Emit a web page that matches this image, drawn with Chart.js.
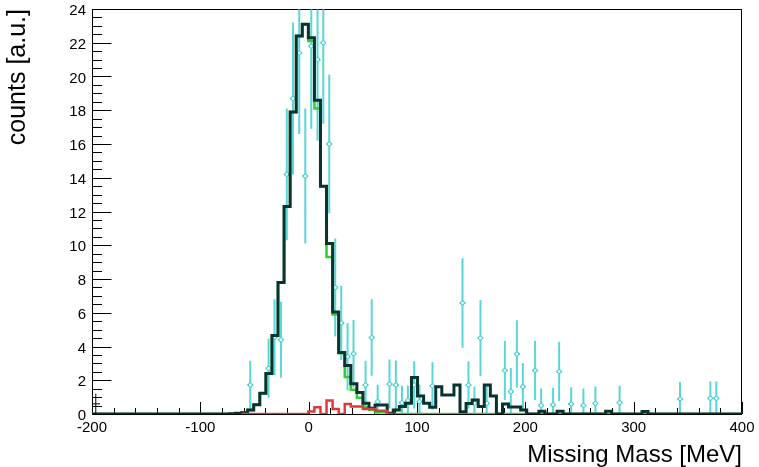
<!DOCTYPE html>
<html>
<head>
<meta charset="utf-8">
<script src="https://cdn.jsdelivr.net/npm/chart.js@4.4.1/dist/chart.umd.min.js"></script>
<style>
  html, body { margin: 0; padding: 0; background: #ffffff; }
  #wrap { width: 759px; height: 467px; }
</style>
</head>
<body>
<div id="wrap"><canvas id="missing-mass-canvas" width="759" height="467"></canvas></div>
<script>
// histogram binning (MeV)
const binWidth = 5.6;
const totalStart = -73.1;   // left edge of first bin listed in totalCounts / signalCounts
const bgStart = -61.9;      // left edge of first bin listed in bgCounts

// total fit (black)
const totalCounts = [0.02, 0.04, 0.08, 0.24, 0.55, 1.23, 2.4, 4.65, 7.8, 12.3, 17.9, 22.4,
  23.1, 22.3, 18.6, 13.5, 10.1, 6.05, 3.64, 2.87, 1.8, 1.27,
  0.63, 0.34, 0.53, 0.53, 0.04, 0.24, 0.44, 0.63, 2.16, 1.07,
  0.63, 0.40, 1.62, 1.13, 1.13, 1.72, 0.14, 0.62, 0.83, 0.44,
  1.72, 1.07, 0, 0.6, 0.42, 0.42, 0.24, 0, 0, 0.17,
  0, 0, 0.17, 0, 0, 0, 0, 0, 0, 0, 0.17, 0, 0, 0, 0, 0, 0.15];

// signal component (green)
const signalCounts = [0.02, 0.04, 0.08, 0.24, 0.55, 1.23, 2.4, 4.65, 7.8, 12.3, 17.9, 22.4,
  23.1, 22.1, 18.1, 13.5, 9.3, 5.9, 3.6, 2.2, 1.43, 0.97,
  0.4, 0.25, 0.1, 0.1, 0.04];

// background component (red)
const bgCounts = [0, 0, 0, 0, 0, 0, 0, 0, 0, 0, 0, 0.15, 0.4, 0, 0.8, 0.3, 0,
  0.6, 0.44, 0.44, 0.3, 0.3, 0.2, 0.2, 0];

// measured points (cyan) with errors
const dataX = [-53.9, -37.0, -31.5, -25.6, -20.2, -14.5, -8.7, -3.1, 2.4, 8.2,
  13.5, 19.0, 24.5, 30.1, 35.9, 41.4, 52.5, 58.2, 63.7, 74.6,
  80.5, 86.1, 91.6, 97.4, 102.3, 114.3, 142.0, 147.5, 153.0, 158.6,
  164.3, 181.1, 186.6, 192.2, 197.7, 209.0, 214.6, 225.6, 231.2, 242.3,
  253.6, 264.7, 287.0, 342.8, 370.8, 376.3];
const dataY = [1.72, 2.71, 4.55, 4.4, 14.2, 18.7, 21.4, 14.1, 21.8, 21.0,
  22.0, 16.0, 7.5, 5.4, 3.4, 3.57, 1.72, 4.53, 0.73, 1.78,
  1.72, 0.67, 0.79, 1.72, 0.73, 1.66, 6.58, 1.72, 0.63, 4.5,
  0.63, 2.58, 1.33, 3.55, 1.62, 2.58, 0.51, 0.55, 2.52, 0.59,
  0.51, 0.63, 0.67, 0.89, 0.93, 0.93];
const dataErr = [1.43, 1.75, 2.25, 2.25, 3.9, 4.5, 4.8, 4.0, 4.9, 4.8,
  4.8, 4.1, 2.9, 2.2, 2.0, 2.0, 1.43, 2.27, 1.0, 1.45,
  1.45, 1.0, 0.9, 1.4, 1.0, 1.4, 2.65, 1.4, 1.0, 2.25,
  1.0, 1.75, 1.4, 2.0, 1.4, 1.75, 1.0, 1.0, 1.75, 1.0,
  1.0, 1.0, 1.0, 1.0, 1.0, 1.0];

// small black marker at the first bin
const firstBinX = [-196.5];
const firstBinY = [0.6];
const firstBinErr = [0.6];

const xTicks = [-200, -100, 0, 100, 200, 300, 400];
const yTicks = [0, 2, 4, 6, 8, 10, 12, 14, 16, 18, 20, 22, 24];

const FONT = "'Liberation Sans', Arial, Helvetica, sans-serif";

// step outline of a histogram from its bin contents
function histLine(values, start, extend) {
  const pts = [];
  if (extend) pts.push({x: -200, y: 0});
  pts.push({x: start, y: 0});
  values.forEach((v, i) => {
    const lo = start + i * binWidth;
    pts.push({x: lo, y: v}, {x: lo + binWidth, y: v});
  });
  pts.push({x: start + values.length * binWidth, y: 0});
  if (extend) pts.push({x: 400, y: 0});
  return pts;
}

// vertical + horizontal error bar segments, separated by gaps
function errorBars(xs, ys, errs, halfWidth) {
  const pts = [];
  xs.forEach((x, i) => {
    pts.push({x: x, y: ys[i] - errs[i]}, {x: x, y: ys[i] + errs[i]}, {x: x, y: null});
    pts.push({x: x - halfWidth, y: ys[i]}, {x: x + halfWidth, y: ys[i]}, {x: x, y: null});
  });
  return pts;
}

// ROOT style frame with inward ticks
const rootFrame = {
  id: 'rootFrame',
  beforeDatasetsDraw(chart) {
    const {ctx, chartArea: a, scales: {x, y}} = chart;
    ctx.save();
    ctx.strokeStyle = '#000000';
    ctx.lineWidth = 1;
    ctx.strokeRect(a.left + 0.5, a.top + 0.5, a.right - a.left - 1, a.bottom - a.top);
    ctx.beginPath();
    for (let v = -200; v <= 400; v += 20) {
      const px = Math.round(x.getPixelForValue(v)) + 0.5;
      const len = v % 100 === 0 ? 12 : 6;
      ctx.moveTo(px, a.bottom);
      ctx.lineTo(px, a.bottom - len);
    }
    for (let v = 0; v <= 24; v += 0.5) {
      const py = Math.round(y.getPixelForValue(v)) + 0.5;
      const len = v % 2 === 0 ? 19.5 : 10;
      ctx.moveTo(a.left, py);
      ctx.lineTo(a.left + len, py);
    }
    ctx.stroke();
    ctx.restore();
  }
};

const ctx = document.getElementById('missing-mass-canvas').getContext('2d');

new Chart(ctx, {
  type: 'line',
  plugins: [rootFrame],
  data: {
    datasets: [
      {
        label: 'background',
        data: histLine(bgCounts, bgStart, false),
        borderColor: '#dd3b3b',
        borderWidth: 2.5,
        pointRadius: 0,
        order: 0,
      },
      {
        label: 'first bin',
        data: errorBars(firstBinX, firstBinY, firstBinErr, 4),
        borderColor: '#000000',
        borderWidth: 1,
        pointRadius: 0,
        order: 1,
      },
      {
        label: 'total',
        data: histLine(totalCounts, totalStart, true),
        borderColor: '#08332e',
        borderWidth: 3,
        pointRadius: 0,
        order: 2,
      },
      {
        label: 'signal',
        data: histLine(signalCounts, totalStart, true),
        borderColor: '#33cc33',
        borderWidth: 2.5,
        pointRadius: 0,
        order: 3,
      },
      {
        label: 'data',
        data: dataX.map((x, i) => ({x: x, y: dataY[i]})),
        showLine: false,
        pointRadius: 2,
        pointBorderWidth: 1,
        pointBackgroundColor: '#ffffff',
        pointBorderColor: '#2ccccc',
        order: 4,
      },
      {
        label: 'data errors',
        data: errorBars(dataX, dataY, dataErr, binWidth / 2),
        borderColor: 'rgba(36, 200, 200, 0.75)',
        borderWidth: 2,
        pointRadius: 0,
        order: 5,
      },
    ],
  },
  options: {
    responsive: false,
    animation: false,
    layout: {
      padding: {top: 9, right: 17, bottom: 0, left: 0},
    },
    scales: {
      x: {
        type: 'linear',
        min: -200,
        max: 400,
        afterBuildTicks: (scale) => { scale.ticks = xTicks.map(v => ({value: v})); },
        afterFit: (scale) => {
          scale.height = 53;
          scale.paddingLeft = 0;
          scale.paddingRight = 0;
        },
        grid: {display: false, drawTicks: false},
        border: {display: false},
        ticks: {
          color: '#000000',
          padding: 5,
          maxRotation: 0,
          autoSkip: false,
          font: {family: FONT, size: 15},
        },
        title: {
          display: true,
          text: 'Missing Mass [MeV]',
          align: 'end',
          color: '#000000',
          padding: {top: 0, bottom: 0},
          font: {family: FONT, size: 24, lineHeight: 0.95},
        },
      },
      y: {
        type: 'linear',
        min: 0,
        max: 24,
        afterBuildTicks: (scale) => { scale.ticks = yTicks.map(v => ({value: v})); },
        afterFit: (scale) => {
          scale.width = 92;
          scale.paddingTop = 0;
          scale.paddingBottom = 0;
        },
        grid: {display: false, drawTicks: false},
        border: {display: false},
        ticks: {
          color: '#000000',
          padding: 6,
          labelOffset: 2,
          autoSkip: false,
          font: {family: FONT, size: 15},
        },
        title: {
          display: true,
          text: 'counts [a.u.]',
          align: 'end',
          color: '#000000',
          padding: {top: 3, bottom: 0},
          font: {family: FONT, size: 25},
        },
      },
    },
    plugins: {
      legend: {display: false},
      tooltip: {enabled: false},
    },
  },
});
</script>
</body>
</html>
